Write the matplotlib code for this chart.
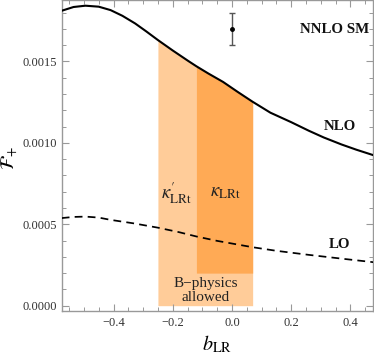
import numpy as np
import matplotlib
matplotlib.use("Agg")
import matplotlib.pyplot as plt
from matplotlib.ticker import MultipleLocator, FuncFormatter

plt.rcParams['font.family'] = ['Liberation Serif', 'DejaVu Serif']
plt.rcParams['mathtext.fontset'] = 'stix'

# ---- data ----
nlo_b = [-0.575, -0.535, -0.495, -0.45, -0.41, -0.37, -0.327, -0.29, -0.25, -0.2,
         -0.147, -0.12, -0.08, -0.03, 0.02, 0.07, 0.13, 0.2, 0.26, 0.31, 0.37, 0.42, 0.478]
nlo_F = [0.001811, 0.001834, 0.001842, 0.001836, 0.001815, 0.001780, 0.001733, 0.001685,
         0.001631, 0.001567, 0.001502, 0.001470, 0.001426, 0.001374, 0.001312, 0.001252,
         0.001185, 0.001127, 0.001074, 0.001033, 0.000990, 0.000958, 0.000924]

lo_b = [-0.575, -0.535, -0.495, -0.45, -0.41, -0.33, -0.25, -0.18, -0.12, -0.05,
        0.07, 0.15, 0.26, 0.37, 0.478]
lo_F = [0.000538, 0.000545, 0.000547, 0.000541, 0.000527, 0.000505, 0.000479, 0.000452,
        0.000425, 0.000398, 0.000359, 0.000337, 0.000312, 0.000289, 0.000267]

# allowed bands: kappa'_LRt from -0.25, kappa_LRt from -0.12, both up to 0.07
band_lo = -0.25
band_mid = -0.12
band_hi = 0.07
dark_floor = 0.0002

sm_b = [0.0]
sm_F = [0.0017]
sm_err = [0.0001]

xticks = [-0.4, -0.2, 0.0, 0.2, 0.4]
yticks = [0.0, 0.0005, 0.0010, 0.0015]

# ---- figure ----
fig = plt.figure(figsize=(3.74, 3.55), dpi=100)
ax = fig.add_axes([62/374, 1 - 311/355, 311/374, 311/355])

b = np.array(nlo_b)
F = np.array(nlo_F)
light = (b >= band_lo) & (b <= band_hi)
dark = (b >= band_mid) & (b <= band_hi)
ax.fill_between(b, 0, F, where=light, color='#FFCC99', lw=0, zorder=1)
ax.fill_between(b, dark_floor, F, where=dark, color='#FFAA55', lw=0, zorder=1.5)

ax.plot(nlo_b, nlo_F, color='black', lw=1.5, zorder=3)
ax.plot(lo_b, lo_F, color='black', lw=1.25, dashes=(4.5, 3), zorder=3)

ax.errorbar(sm_b, sm_F, yerr=sm_err, fmt='o', color='black', ms=2.5,
            ecolor='#555555', elinewidth=1.0, capsize=2.5, capthick=1.0, zorder=4)

bold = dict(fontsize=10.8, fontweight='bold', ha='center', va='center', color='#111111')
ax.text(0.347, 0.001698, 'NNLO SM', **bold)
ax.text(0.365, 0.00110, 'NLO', **bold)
ax.text(0.365, 0.000373, 'LO', **bold)

ax.text(-0.186, 0.000694, r"$\kappa_{\mathrm{LRt}}^{\prime}$", fontsize=13.5, ha='center', va='center', color='#222222')
ax.text(-0.023, 0.000694, r"$\kappa_{\mathrm{LRt}}$", fontsize=13.5, ha='center', va='center', color='#222222')
ax.text(-0.09, 0.000093, 'B\u2212physics\nallowed', fontsize=11, ha='center', va='center',
        color='#222222', linespacing=1.15)

ax.set_xlim(-0.574, 0.4765)
ax.set_ylim(-0.0000326, 0.001877)

ax.set_xticks(xticks)
ax.set_yticks(yticks)
ax.xaxis.set_minor_locator(MultipleLocator(0.05))
ax.yaxis.set_minor_locator(MultipleLocator(0.0001))
ax.xaxis.set_major_formatter(FuncFormatter(lambda v, p: ('%.1f' % v).replace('-', '\u2212')))
ax.yaxis.set_major_formatter(FuncFormatter(lambda v, p: '%.4f' % abs(v)))

ax.tick_params(which='both', direction='in', top=True, right=True, color='#999999',
               labelsize=9, labelcolor='#333333')
ax.tick_params(which='major', length=5, width=0.8)
ax.tick_params(which='minor', length=3, width=0.7)
ax.tick_params(axis='x', pad=4.5)
ax.tick_params(axis='y', pad=3.5)
for s in ax.spines.values():
    s.set_color('#999999')
    s.set_linewidth(1.0)

ax.set_xlabel(r'$b_{\mathrm{LR}}$', fontsize=14.5, labelpad=3)
ax.set_ylabel(r'$\mathcal{F}_{+}$', fontsize=14, va='center')
ax.yaxis.set_label_coords(-0.167, 0.49)

fig.savefig('out.png', dpi=100)
